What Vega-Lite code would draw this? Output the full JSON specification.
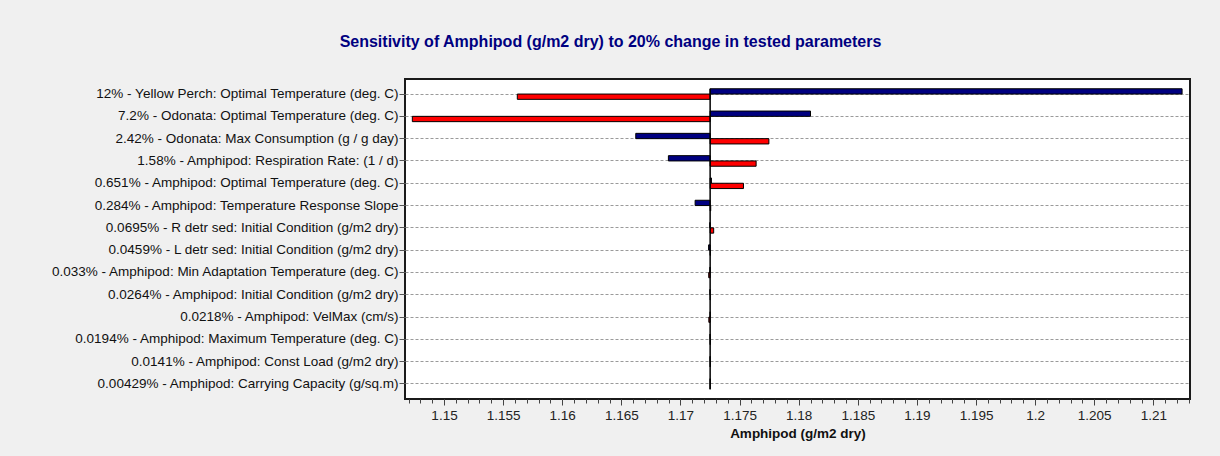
{
  "$schema": "https://vega.github.io/schema/vega-lite/v6.json",
  "width": 785,
  "height": 320,
  "autosize": {"type": "none"},
  "padding": {"left": 405, "top": 79, "right": 30, "bottom": 57},
  "background": "#f0f0f0",
  "config": {
    "view": {"stroke": "#1a1a1a", "strokeWidth": 2, "fill": "white"},
    "font": "Liberation Sans"
  },
  "title": {
    "text": "Sensitivity of Amphipod (g/m2 dry) to 20% change in tested parameters",
    "font": "Liberation Sans",
    "fontSize": 16,
    "fontWeight": "bold",
    "color": "#000080",
    "anchor": "middle",
    "dx": -187,
    "offset": 29
  },
  "datasets": {
    "bars": [
      {"param": "12% - Yellow Perch: Optimal Temperature (deg. C)", "change": "+20%", "value": 1.21243, "base": 1.17251},
      {"param": "12% - Yellow Perch: Optimal Temperature (deg. C)", "change": "-20%", "value": 1.1562, "base": 1.17251},
      {"param": "7.2% - Odonata: Optimal Temperature (deg. C)", "change": "+20%", "value": 1.181, "base": 1.17251},
      {"param": "7.2% - Odonata: Optimal Temperature (deg. C)", "change": "-20%", "value": 1.14732, "base": 1.17251},
      {"param": "2.42% - Odonata: Max Consumption (g / g day)", "change": "+20%", "value": 1.16622, "base": 1.17251},
      {"param": "2.42% - Odonata: Max Consumption (g / g day)", "change": "-20%", "value": 1.17748, "base": 1.17251},
      {"param": "1.58% - Amphipod: Respiration Rate: (1 / d)", "change": "+20%", "value": 1.16898, "base": 1.17251},
      {"param": "1.58% - Amphipod: Respiration Rate: (1 / d)", "change": "-20%", "value": 1.1764, "base": 1.17251},
      {"param": "0.651% - Amphipod: Optimal Temperature (deg. C)", "change": "+20%", "value": 1.17262, "base": 1.17251},
      {"param": "0.651% - Amphipod: Optimal Temperature (deg. C)", "change": "-20%", "value": 1.17533, "base": 1.17251},
      {"param": "0.284% - Amphipod: Temperature Response Slope", "change": "+20%", "value": 1.17124, "base": 1.17251},
      {"param": "0.284% - Amphipod: Temperature Response Slope", "change": "-20%", "value": 1.17256, "base": 1.17251},
      {"param": "0.0695% - R detr sed: Initial Condition (g/m2 dry)", "change": "+20%", "value": 1.17248, "base": 1.17251},
      {"param": "0.0695% - R detr sed: Initial Condition (g/m2 dry)", "change": "-20%", "value": 1.17281, "base": 1.17251},
      {"param": "0.0459% - L detr sed: Initial Condition (g/m2 dry)", "change": "+20%", "value": 1.17238, "base": 1.17251},
      {"param": "0.0459% - L detr sed: Initial Condition (g/m2 dry)", "change": "-20%", "value": 1.17253, "base": 1.17251},
      {"param": "0.033% - Amphipod: Min Adaptation Temperature (deg. C)", "change": "+20%", "value": 1.17249, "base": 1.17251},
      {"param": "0.033% - Amphipod: Min Adaptation Temperature (deg. C)", "change": "-20%", "value": 1.17239, "base": 1.17251},
      {"param": "0.0264% - Amphipod: Initial Condition (g/m2 dry)", "change": "+20%", "value": 1.17249, "base": 1.17251},
      {"param": "0.0264% - Amphipod: Initial Condition (g/m2 dry)", "change": "-20%", "value": 1.17253, "base": 1.17251},
      {"param": "0.0218% - Amphipod: VelMax (cm/s)", "change": "+20%", "value": 1.17251, "base": 1.17251},
      {"param": "0.0218% - Amphipod: VelMax (cm/s)", "change": "-20%", "value": 1.1724, "base": 1.17251},
      {"param": "0.0194% - Amphipod: Maximum Temperature (deg. C)", "change": "+20%", "value": 1.1725, "base": 1.17251},
      {"param": "0.0194% - Amphipod: Maximum Temperature (deg. C)", "change": "-20%", "value": 1.17252, "base": 1.17251},
      {"param": "0.0141% - Amphipod: Const Load (g/m2 dry)", "change": "+20%", "value": 1.1725, "base": 1.17251},
      {"param": "0.0141% - Amphipod: Const Load (g/m2 dry)", "change": "-20%", "value": 1.17252, "base": 1.17251},
      {"param": "0.00429% - Amphipod: Carrying Capacity (g/sq.m)", "change": "+20%", "value": 1.17251, "base": 1.17251},
      {"param": "0.00429% - Amphipod: Carrying Capacity (g/sq.m)", "change": "-20%", "value": 1.17251, "base": 1.17251}
    ],
    "baseline": [
      {"base": 1.17251, "first": "12% - Yellow Perch: Optimal Temperature (deg. C)", "last": "0.00429% - Amphipod: Carrying Capacity (g/sq.m)"}
    ]
  },
  "resolve": {"axis": {"x": "independent"}},
  "layer": [
    {
      "data": {"name": "bars"},
      "mark": {"type": "bar", "stroke": "black", "strokeWidth": 1},
      "encoding": {
        "y": {
          "field": "param",
          "type": "nominal",
          "scale": {
            "type": "band",
            "domain": [
              "12% - Yellow Perch: Optimal Temperature (deg. C)",
              "7.2% - Odonata: Optimal Temperature (deg. C)",
              "2.42% - Odonata: Max Consumption (g / g day)",
              "1.58% - Amphipod: Respiration Rate: (1 / d)",
              "0.651% - Amphipod: Optimal Temperature (deg. C)",
              "0.284% - Amphipod: Temperature Response Slope",
              "0.0695% - R detr sed: Initial Condition (g/m2 dry)",
              "0.0459% - L detr sed: Initial Condition (g/m2 dry)",
              "0.033% - Amphipod: Min Adaptation Temperature (deg. C)",
              "0.0264% - Amphipod: Initial Condition (g/m2 dry)",
              "0.0218% - Amphipod: VelMax (cm/s)",
              "0.0194% - Amphipod: Maximum Temperature (deg. C)",
              "0.0141% - Amphipod: Const Load (g/m2 dry)",
              "0.00429% - Amphipod: Carrying Capacity (g/sq.m)"
            ],
            "paddingInner": 0.525,
            "paddingOuter": 0.4375
          },
          "axis": {
            "title": null,
            "grid": true,
            "gridDash": [3, 2],
            "gridColor": "#9a9a9a",
            "gridWidth": 1,
            "bandPosition": 0.5,
            "tickSize": 6,
            "tickColor": "#555555",
            "labelFont": "Liberation Sans",
            "labelFontSize": 13.5,
            "labelColor": "#111111",
            "labelPadding": 1,
            "labelLimit": 600,
            "domain": false
          }
        },
        "yOffset": {
          "field": "change",
          "type": "nominal",
          "scale": {"domain": ["+20%", "-20%"], "paddingInner": 0, "paddingOuter": 0}
        },
        "x": {
          "field": "value",
          "type": "quantitative",
          "scale": {"domain": [1.1467, 1.2131], "nice": false, "zero": false},
          "axis": {
            "orient": "bottom",
            "title": "Amphipod (g/m2 dry)",
            "titleFont": "Liberation Sans",
            "titleFontSize": 13.5,
            "titleFontWeight": "bold",
            "titleColor": "#111111",
            "titlePadding": 5,
            "values": [1.15, 1.155, 1.16, 1.165, 1.17, 1.175, 1.18, 1.185, 1.19, 1.195, 1.2, 1.205, 1.21],
            "format": ".3~f",
            "grid": false,
            "domain": false,
            "tickSize": 6,
            "tickColor": "#444444",
            "labelFont": "Liberation Sans",
            "labelFontSize": 13.5,
            "labelColor": "#222222",
            "labelPadding": 3
          }
        },
        "x2": {"field": "base"},
        "color": {
          "field": "change",
          "type": "nominal",
          "scale": {"domain": ["+20%", "-20%"], "range": ["#000080", "#ff0000"]},
          "legend": null
        }
      }
    },
    {
      "data": {"name": "baseline"},
      "mark": {"type": "rule", "color": "black", "strokeWidth": 1.5, "yOffset": -5.3, "y2Offset": 5.3},
      "encoding": {
        "x": {
          "field": "base",
          "type": "quantitative",
          "axis": {
            "orient": "bottom",
            "title": null,
            "labels": false,
            "grid": false,
            "domain": false,
            "tickSize": 4,
            "tickColor": "#444444",
            "values": [1.147, 1.148, 1.149, 1.15, 1.151, 1.152, 1.153, 1.154, 1.155, 1.156, 1.157, 1.158, 1.159, 1.16, 1.161, 1.162, 1.163, 1.164, 1.165, 1.166, 1.167, 1.168, 1.169, 1.17, 1.171, 1.172, 1.173, 1.174, 1.175, 1.176, 1.177, 1.178, 1.179, 1.18, 1.181, 1.182, 1.183, 1.184, 1.185, 1.186, 1.187, 1.188, 1.189, 1.19, 1.191, 1.192, 1.193, 1.194, 1.195, 1.196, 1.197, 1.198, 1.199, 1.2, 1.201, 1.202, 1.203, 1.204, 1.205, 1.206, 1.207, 1.208, 1.209, 1.21, 1.211, 1.212, 1.213]
          }
        },
        "y": {"field": "first", "type": "nominal"},
        "y2": {"field": "last"}
      }
    }
  ]
}
